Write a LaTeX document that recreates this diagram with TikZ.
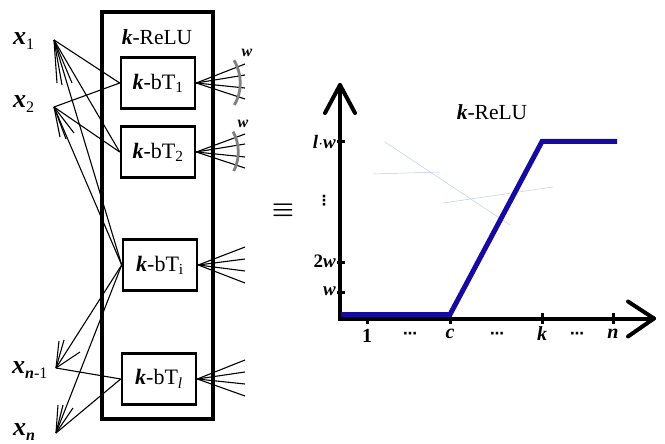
\documentclass[tikz,border=0pt]{standalone}
\usepackage{fontspec}
\setmainfont{Liberation Serif}
\newfontfamily\djv{DejaVu Sans}
\usepackage{amsmath,bm}
\begin{document}
\begin{tikzpicture}[x=1pt,y=-1pt,
  lbl/.style={font=\fontsize{21.5}{23}\selectfont, inner sep=0pt},
  xlbl/.style={font=\fontsize{26}{28}\selectfont, inner sep=0pt},
  sml/.style={font=\fontsize{19}{20}\selectfont, inner sep=0pt},
  tlbl/.style={font=\fontsize{20}{20}\selectfont, inner sep=0pt},
  dotlbl/.style={font=\djv\bfseries\fontsize{14}{14}\selectfont, inner sep=0pt},
  btbox/.style={draw, line width=2.6pt, minimum width=74pt, minimum height=51pt, inner sep=0pt, font=\fontsize{22}{24}\selectfont},
  wire/.style={line width=1.1pt},
  warc/.style={draw=gray, line width=2.8pt},
  axis/.style={line width=4pt},
  tick/.style={line width=3pt},
  curve/.style={line width=5pt, draw={rgb,255:red,22;green,10;blue,160}},
  faint/.style={line width=0.5pt, draw={rgb,255:red,190;green,205;blue,230}}]
\useasboundingbox (0,0) rectangle (665,444);
\newcommand{\kk}{\textbf{\textit{k}}}
\newcommand{\xx}{\textbf{\textit{x}}}
\newcommand{\subsz}{\fontsize{16}{16}\selectfont}
% big box
\node[draw, line width=4pt, minimum width=111pt, minimum height=407pt, inner sep=0pt] (relu) at (157.5,215.5) {};
\node[lbl] (t1) at (157,37) {\kk-ReLU};
% inner boxes
\node[btbox] (b1) at (158,83) {\kk-bT\textsubscript{1}};
\node[btbox] (b2) at (158,152) {\kk-bT\textsubscript{2}};
\node[btbox] (bi) at (160,265) {\kk-bT\textsubscript{i}};
\node[btbox] (bl) at (159,379) {\kk-bT\textsubscript{\textit{l}}};
% inputs
\coordinate (x1) at (54,40);
\coordinate (x2) at (54,107);
\coordinate (xm) at (56,368);
\coordinate (xn) at (56,433);
\node[xlbl, anchor=west] (lx1) at (13,41) {\xx\raisebox{-5pt}{\subsz 1}};
\node[xlbl, anchor=west] (lx2) at (13,104) {\xx\raisebox{-5pt}{\subsz 2}};
\node[xlbl, anchor=west] (lxm) at (12,370) {\xx\raisebox{-5pt}{\subsz\textbf{\textit{n}}-1}};
\node[xlbl, anchor=west] (lxn) at (13,432) {\xx\raisebox{-5pt}{\subsz\textbf{\textit{n}}}};
% connections
\draw[wire] (x1) -- (b1.west);
\draw[wire] (x2) -- (b1.west);
\draw[wire] (x1) -- (b2.west);
\draw[wire] (x2) -- (b2.west);
\draw[wire] (x1) -- (bi.west);
\draw[wire] (x2) -- (bi.west);
\draw[wire] (xm) -- (bi.west);
\draw[wire] (xn) -- (bi.west);
\draw[wire] (xm) -- (bl.west);
\draw[wire] (xn) -- (bl.west);
% input fan stubs
\foreach \dx/\dy in {3/43, 8/45, 18/43} \draw[wire] (x1) -- ++(\dx,\dy);
\foreach \dx/\dy in {6/30, 12/32, 20/26} \draw[wire] (x2) -- ++(\dx,\dy);
\foreach \dx/\dy in {3/-27, 8/-28, 24/-16} \draw[wire] (xm) -- ++(\dx,\dy);
\foreach \dx/\dy in {2/-28, 7/-28, 17/-25} \draw[wire] (xn) -- ++(\dx,\dy);
% output fans
\foreach \y in {64,75,88,99} \draw[wire] (b1.east) -- (245,\y);
\foreach \y in {134,144,157,168} \draw[wire] (b2.east) -- (245,\y);
\foreach \y in {247,259,271,283} \draw[wire] (bi.east) -- (245,\y);
\foreach \y in {360,372,384,396} \draw[wire] (bl.east) -- (245,\y);
% weight arcs
\draw[warc] ([shift={(-31:44)}]b1.east) arc[start angle=-31, end angle=30, radius=44];
\draw[warc] ([shift={(-29:42)}]b2.east) arc[start angle=-29, end angle=27, radius=42];
\node[inner sep=0pt, font=\fontsize{16}{16}\selectfont] (w1) at (247,53) {\textbf{\textit{w}}};
\node[inner sep=0pt, font=\fontsize{16}{16}\selectfont] (w2) at (243,124) {\textbf{\textit{w}}};
% equivalence
\node[inner sep=0pt, font=\fontsize{34}{34}\selectfont] (eq) at (283,210) {$\bm{\equiv}$};
% chart
\coordinate (O) at (340,318.5);
\coordinate (ytip) at (340,85);
\coordinate (xtip) at (654,318.5);
\draw[axis] (340,320.5) -- (ytip);
\draw[axis, line cap=round] (ytip) -- ++(-15,28);
\draw[axis, line cap=round] (ytip) -- ++(15,28);
\draw[axis] (338,318.5) -- (xtip);
\draw[axis, line cap=round] (xtip) -- ++(-26,-17);
\draw[axis, line cap=round] (xtip) -- ++(-26,18);
% y ticks
\foreach \y in {142,262,292} \draw[tick] (337,\y) -- (345,\y);
\node[sml, anchor=east] (ly1) at (336,142) {\textbf{\textit{l}}$\cdot$\textbf{\textit{w}}};
\node[sml, anchor=east] (ly2) at (336,261) {\textbf{2}\textbf{\textit{w}}};
\node[sml, anchor=east] (ly3) at (336,291) {\textbf{\textit{w}}};
\node[dotlbl] (ldots) at (324,201) {⋮};
% x ticks
\foreach \x in {367,450,542,613} \draw[tick] (\x,313) -- (\x,324);
\node[tlbl] (l1) at (367,336) {\textbf{1}};
\node[tlbl] (lc) at (450,334) {\textbf{\textit{c}}};
\node[tlbl] (lk) at (542,334) {\textbf{\textit{k}}};
\node[tlbl] (ln) at (613,334) {\textbf{\textit{n}}};
\foreach \x/\nm in {410/d1,497/d2,577/d3} \node[dotlbl] (\nm) at (\x,335) {⋯};
% title
\node[lbl] (t2) at (492,112) {\kk-ReLU};
% faint lines
\draw[faint] (385,142) -- (510,225);
\draw[faint] (373,174) -- (439,172);
\draw[faint] (443,203) -- (553,187);
% curve
\draw[curve] (341,314.5) -- (450,314.5) -- (542,141.5) -- (617,141.5);
\end{tikzpicture}
\end{document}
